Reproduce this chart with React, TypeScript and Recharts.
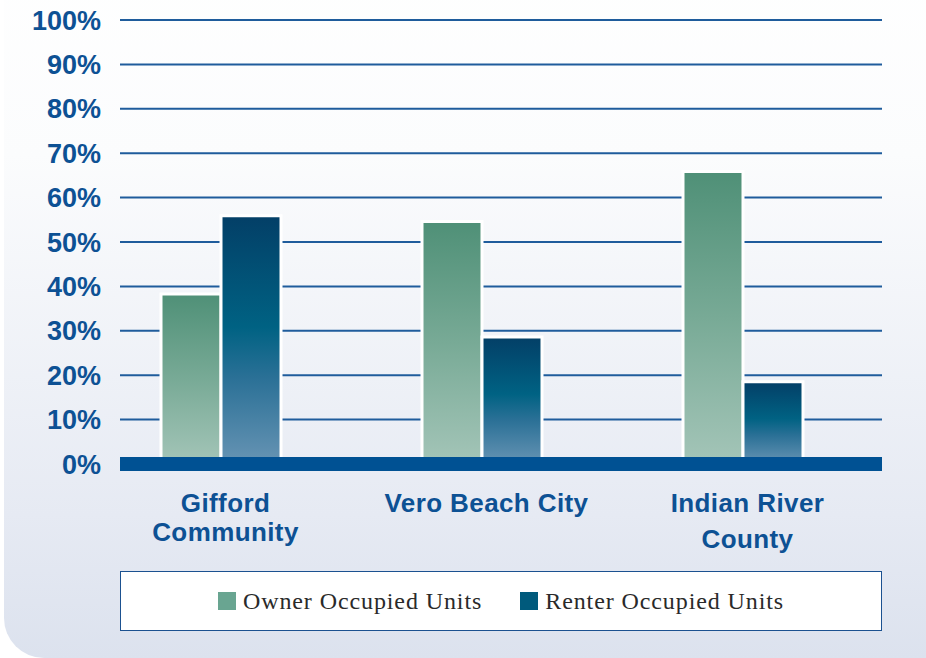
import React from "react";
import {
  BarChart,
  Bar,
  XAxis,
  YAxis,
  CartesianGrid,
  ReferenceLine,
  Legend,
} from "recharts";

const categories = ["Gifford Community", "Vero Beach City", "Indian River County"];
const tickLines = [["Gifford", "Community"], ["Vero Beach City"], ["Indian River", "County"]];
const ownerValues = [38.3, 54.6, 65.9];
const renterValues = [55.9, 28.6, 18.5];
const yTicks = [0, 10, 20, 30, 40, 50, 60, 70, 80, 90, 100];

const SERIES = [
  { key: "owner", name: "Owner Occupied Units", swatch: "#69a591" },
  { key: "renter", name: "Renter Occupied Units", swatch: "#005a7c" },
];

const BLUE = "#0d5194";

const data = categories.map((c, i) => ({
  category: c,
  owner: ownerValues[i],
  renter: renterValues[i],
}));

function XTick(props: any) {
  const { x, y, payload, index } = props;
  const lines = tickLines[index] ?? [payload.value];
  const gap = index === 0 ? 29 : 36;
  const cx = x + 5;
  return (
    <text
      x={cx}
      y={y}
      textAnchor="middle"
      fill={BLUE}
      fontFamily="'Liberation Sans', Arial, sans-serif"
      fontWeight="bold"
      fontSize={26}
      letterSpacing={0.4}
    >
      {lines.map((l: string, k: number) => (
        <tspan key={k} x={cx} y={y + 46 + k * gap}>
          {l}
        </tspan>
      ))}
    </text>
  );
}

function LegendBox() {
  return (
    <div
      style={{
        width: 762,
        height: 60,
        boxSizing: "border-box",
        border: "1.5px solid #1b5190",
        background: "#fff",
        display: "flex",
        alignItems: "center",
        justifyContent: "center",
        gap: 38,
        fontFamily: "'Liberation Serif', 'Times New Roman', serif",
        fontSize: 24,
        letterSpacing: 0.9,
        color: "#2a2a2a",
      }}
    >
      {SERIES.map((s) => (
        <div key={s.key} style={{ display: "flex", alignItems: "center", gap: 7 }}>
          <span style={{ width: 18, height: 18, background: s.swatch, display: "inline-block" }} />
          <span>{s.name}</span>
        </div>
      ))}
    </div>
  );
}

export default function App() {
  return (
    <div style={{ position: "absolute", left: 0, top: 0, width: 926, height: 658, overflow: "hidden", background: "#fff" }}>
      {/* rounded panel behind the chart */}
      <div
        style={{
          position: "absolute",
          left: 4,
          top: -60,
          width: 970,
          height: 718,
          borderRadius: 40,
          background: "linear-gradient(to bottom, #ffffff 0%, #fbfcfd 30%, #e6eaf3 80%, #dce2ee 100%)",
        }}
      />
      <div style={{ position: "absolute", left: 0, top: 0 }}>
        <BarChart
          width={926}
          height={658}
          data={data}
          margin={{ top: 20, right: 44, left: 0, bottom: 94 }}
          barGap={0}
        >
          <defs>
            <linearGradient id="ownerGrad" x1="0" y1="0" x2="0" y2="1">
              <stop offset="0%" stopColor="#4f9077" />
              <stop offset="50%" stopColor="#78aa96" />
              <stop offset="100%" stopColor="#a4c5b8" />
            </linearGradient>
            <linearGradient id="renterGrad" x1="0" y1="0" x2="0" y2="1">
              <stop offset="0%" stopColor="#033f67" />
              <stop offset="45%" stopColor="#006283" />
              <stop offset="65%" stopColor="#2a7096" />
              <stop offset="100%" stopColor="#6794b4" />
            </linearGradient>
          </defs>
          <CartesianGrid vertical={false} stroke="#1f5c9c" strokeWidth={2} />
          <XAxis
            dataKey="category"
            axisLine={false}
            tickLine={false}
            tickSize={0}
            height={100}
            padding={{ left: -30, right: 9 }}
            tick={<XTick />}
            interval={0}
          />
          <YAxis
            width={120}
            domain={[0, 100]}
            ticks={yTicks}
            axisLine={false}
            tickLine={false}
            tickSize={0}
            tickMargin={19}
            tickFormatter={(v) => `${v}%`}
            tick={{
              fill: BLUE,
              fontSize: 27,
              fontWeight: "bold",
              fontFamily: "'Liberation Sans', Arial, sans-serif",
            }}
          />
          <Legend
            layout="horizontal"
            verticalAlign="middle"
            align="center"
            wrapperStyle={{ left: 120, top: 571, width: 762 }}
            content={() => <LegendBox />}
          />
          <Bar
            dataKey="owner"
            name={SERIES[0].name}
            fill="url(#ownerGrad)"
            stroke="#ffffff"
            strokeWidth={3}
            barSize={60}
            isAnimationActive={false}
          />
          <Bar
            dataKey="renter"
            name={SERIES[1].name}
            fill="url(#renterGrad)"
            stroke="#ffffff"
            strokeWidth={3}
            barSize={60}
            isAnimationActive={false}
          />
          <ReferenceLine y={0} stroke="#005193" strokeWidth={14} />
        </BarChart>
      </div>
    </div>
  );
}
